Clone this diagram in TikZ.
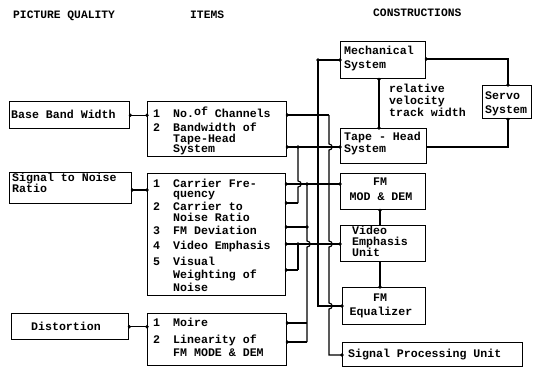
\documentclass[tikz,border=0pt]{standalone}
\usepackage{fontspec}
\setmainfont{Liberation Mono}
\newcommand\hopover[1]{-- ([yshift=3pt]#1) .. controls ([shift={(4.2pt,3pt)}]#1) and ([shift={(4.2pt,-3pt)}]#1) .. ([yshift=-3pt]#1)}
\begin{document}
\begin{tikzpicture}[x=1pt,y=-1pt,
  font=\fontsize{11.6}{10}\selectfont\bfseries,
  box/.style={draw,line width=1.4pt,inner sep=0pt,anchor=north west},
  txt/.style={anchor=base west,inner sep=0pt},
  ctxt/.style={anchor=base,inner sep=0pt},
  head/.style={anchor=base west,inner sep=0pt,font=\fontsize{11.3}{12}\selectfont\bfseries},
  wire/.style={line width=1.1pt},
  jdot/.style={circle,fill,inner sep=0pt,minimum size=3.6pt}]
\useasboundingbox (0,0) rectangle (549,367);

% column headings
\node[head] (h1) at (13,18.5) {PICTURE QUALITY};
\node[head] (h2) at (190,18.5) {ITEMS};
\node[head] (h3) at (373,16) {CONSTRUCTIONS};

% picture quality boxes
\node[box,minimum width=120pt,minimum height=27pt] (bbw) at (9,101) {};
\node[txt] (bbwt) at (11,118) {Base Band Width};
\node[box,minimum width=122pt,minimum height=31pt] (snr) at (9,172) {};
\node[txt] (snrt) at (12,181) {Signal to Noise};
\node[txt] (snrt2) at (12,192.5) {Ratio};
\node[box,minimum width=117pt,minimum height=26pt] (dist) at (11,313) {};
\node[ctxt] (distt) at (66,330) {Distortion};

% item boxes
\node[box,minimum width=139pt,minimum height=55pt] (items1) at (147,101) {};
\node[txt] (n11) at (153,117.5) {1};
\node[txt] (i11) at (173,117.5) {No.\raisebox{2pt}{of} Channels};
\node[txt] (n12) at (153,131.5) {2};
\node[txt] (i12a) at (173,131.5) {Bandwidth of};
\node[txt] (i12b) at (173,142) {Tape-Head};
\node[txt] (i12c) at (173,152.5) {System};

\node[box,minimum width=138pt,minimum height=122pt] (items2) at (147,173) {};
\node[txt] (n21) at (153,187) {1};
\node[txt] (i21a) at (173,187) {Carrier Fre-};
\node[txt] (i21b) at (173,197.5) {quency};
\node[txt] (n22) at (153,210.5) {2};
\node[txt] (i22a) at (173,210.5) {Carrier to};
\node[txt] (i22b) at (173,221.5) {Noise Ratio};
\node[txt] (n23) at (153,234.5) {3};
\node[txt] (i23) at (173,234.5) {FM Deviation};
\node[txt] (n24) at (153,249.5) {4};
\node[txt] (i24) at (173,249.5) {Video Emphasis};
\node[txt] (n25) at (153,265) {5};
\node[txt] (i25a) at (173,265) {Visual};
\node[txt] (i25b) at (173,278) {Weighting of};
\node[txt] (i25c) at (173,291) {Noise};

\node[box,minimum width=139pt,minimum height=52pt] (items3) at (147,313) {};
\node[txt] (n31) at (153,326.5) {1};
\node[txt] (i31) at (173,326.5) {Moire};
\node[txt] (n32) at (153,343.5) {2};
\node[txt] (i32a) at (173,343.5) {Linearity of};
\node[txt] (i32b) at (173,356) {FM MODE \& DEM};

% construction boxes
\node[box,minimum width=85pt,minimum height=37pt] (mech) at (340,41) {};
\node[txt] (mecht) at (344,54.5) {Mechanical};
\node[txt] (mecht2) at (344,68.5) {System};
\node[box,minimum width=49pt,minimum height=33pt] (servo) at (482,85) {};
\node[txt] (servot) at (485,99.5) {Servo};
\node[txt] (servot2) at (485,113.5) {System};
\node[box,minimum width=86pt,minimum height=35pt] (tape) at (340,128) {};
\node[txt] (tapet) at (344,140.5) {Tape - Head};
\node[txt] (tapet2) at (344,152.5) {System};
\node[box,minimum width=85pt,minimum height=36pt] (fm) at (340,173) {};
\node[ctxt] (fmt) at (380,185.5) {FM};
\node[ctxt] (fmt2) at (381,200.5) {MOD \& DEM};
\node[box,minimum width=85pt,minimum height=36pt] (video) at (340,225) {};
\node[txt] (videot) at (352,234.5) {Video};
\node[txt] (videot2) at (352,245.5) {Emphasis};
\node[txt] (videot3) at (352,256.5) {Unit};
\node[box,minimum width=83pt,minimum height=37pt] (eq) at (342,287) {};
\node[ctxt] (eqt) at (380,301.5) {FM};
\node[ctxt] (eqt2) at (381,315.5) {Equalizer};
\node[box,minimum width=180pt,minimum height=24pt] (spu) at (342,342) {};
\node[txt] (sput) at (348,357) {Signal Processing Unit};

\node[txt] (rel) at (389,92) {relative};
\node[txt] (rel2) at (389,104.5) {velocity};
\node[txt] (rel3) at (389,116.5) {track width};

% row and bus positions of the wiring
\coordinate (yMe) at (0,60);
\coordinate (yCh) at (0,115);
\coordinate (yBw) at (0,147);
\coordinate (yCf) at (0,184);
\coordinate (yCn) at (0,203);
\coordinate (yFd) at (0,227);
\coordinate (yVe) at (0,244);
\coordinate (yVw) at (0,270);
\coordinate (yEq) at (0,306);
\coordinate (yMo) at (0,323);
\coordinate (yLi) at (0,342);
\coordinate (ySp) at (0,355);
\coordinate (ySn) at (0,190);
\coordinate (yMs) at (0,59);
\coordinate (xA) at (298,0);
\coordinate (xB) at (307,0);
\coordinate (xC) at (318,0);
\coordinate (xD) at (329,0);
\coordinate (xM) at (379,0);
\coordinate (xF) at (380,0);
\coordinate (xS) at (508,0);

% crossings without a junction
\coordinate (cA1) at (xA |- yCf);
\coordinate (cB1) at (xB |- yVe);
\coordinate (cD1) at (xD |- yBw);
\coordinate (cD2) at (xD |- yVe);
\coordinate (cD3) at (xD |- yEq);

% quality to items
\draw[wire] (bbw.east) node[jdot]{} -- (items1.west |- bbw.east) node[jdot]{};
\draw[wire] (snr.east |- ySn) node[jdot]{} -- (items2.west |- ySn) node[jdot]{};
\draw[wire] (dist.east) node[jdot]{} -- (items3.west |- dist.east) node[jdot]{};

% constructions among themselves
\draw[wire] (mech.south -| xM) node[jdot]{} -- (tape.north -| xM) node[jdot]{};
\draw[wire] (mech.east |- yMs) node[jdot]{} -- (xS |- yMs) -- (servo.north -| xS) node[jdot]{};
\draw[wire] (tape.east |- yBw) -- (xS |- yBw) -- (servo.south -| xS) node[jdot]{};
\draw[wire] (fm.south -| xF) node[jdot]{} -- (video.north -| xF);
\draw[wire] (video.south -| xF) -- (eq.north -| xF) node[jdot]{};

% items to constructions: horizontal runs
\draw[wire] (items1.east |- yCh) node[jdot]{} -- (xD |- yCh);
\draw[wire] (items1.east |- yBw) node[jdot]{} -- (tape.west |- yBw) node[jdot]{};
\draw[wire] (items2.east |- yCf) node[jdot]{} -- (fm.west |- yCf) node[jdot]{};
\draw[wire] (items2.east |- yCn) node[jdot]{} -- (xA |- yCn);
\draw[wire] (items2.east |- yFd) node[jdot]{} -- (xB |- yFd);
\draw[wire] (items2.east |- yVe) node[jdot]{} -- (video.west |- yVe) node[jdot]{};
\draw[wire] (items2.east |- yVw) node[jdot]{} -- (xA |- yVw);
\draw[wire] (items3.east |- yMo) node[jdot]{} -- (xB |- yMo);
\draw[wire] (items3.east |- yLi) node[jdot]{} -- (xB |- yLi);

% vertical buses
\draw[wire] (xA |- yBw) \hopover{cA1} -- (xA |- yCn);
\draw[wire] (xA |- yVe) -- (xA |- yVw);
\draw[wire] (xB |- yCf) \hopover{cB1} -- (xB |- yLi);
\draw[wire] (eq.west |- yEq) node[jdot]{} -- (xC |- yEq) -- (xC |- yMe) -- (mech.west |- yMe) node[jdot]{};
\draw[wire] (xD |- yCh) \hopover{cD1} \hopover{cD2} \hopover{cD3} -- (xD |- ySp) -- (spu.west |- ySp) node[jdot]{};

% junction dots
\foreach \p in {xA |- yBw, xC |- yBw, xC |- yCh, xB |- yCf, xB |- yFd, xA |- yVe, xC |- yMe}
  \node[jdot] at (\p) {};
\end{tikzpicture}
\end{document}
